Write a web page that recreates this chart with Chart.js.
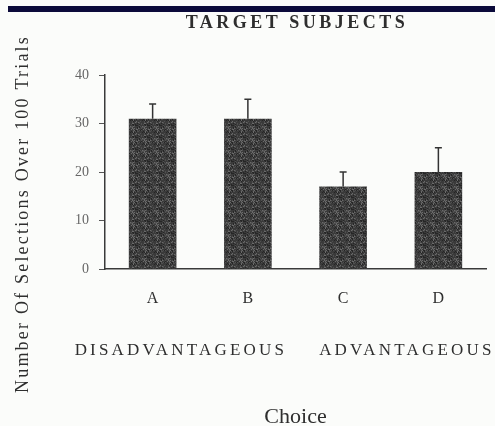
<!DOCTYPE html>
<html lang="en">
<head>
    <meta charset="UTF-8">
    <title>Target Subjects</title>
    <script src="https://cdn.jsdelivr.net/npm/chart.js"></script>
    <style>
        html, body {
            margin: 0;
            padding: 0;
            background: #fbfcfa;
        }

        #wrap {
            width: 495px;
            height: 426px;
        }
    </style>
</head>
<body>

    <div id="wrap"><canvas id="choiceChart"></canvas></div>

    <script>
        // values
        const choices = ['A', 'B', 'C', 'D'];
        const selections = [31, 31, 17, 20];
        const errorTops = [34, 35, 20, 25];
        const yTicks = [0, 10, 20, 30, 40];
        const groupLabels = ['DISADVANTAGEOUS', 'ADVANTAGEOUS'];

        const serif = '"Liberation Serif", "DejaVu Serif", serif';

        // speckled dark fill like the printed bars
        function barPattern() {
            const c = document.createElement('canvas');
            c.width = 12;
            c.height = 12;
            const g = c.getContext('2d');
            g.fillStyle = '#3a3a3a';
            g.fillRect(0, 0, 12, 12);
            for (let i = 0; i < 144; i++) {
                const h = Math.abs(Math.sin(i * 12.9898) * 43758.5453) % 1;
                if (h > 0.72) {
                    g.fillStyle = h > 0.9 ? '#6a6a6a' : '#505050';
                    g.fillRect(i % 12, Math.floor(i / 12), 1, 1);
                } else if (h < 0.15) {
                    g.fillStyle = '#262626';
                    g.fillRect(i % 12, Math.floor(i / 12), 1, 1);
                }
            }
            return g.createPattern(c, 'repeat');
        }

        const decorations = {
            id: 'decorations',
            beforeDraw(chart) {
                const ctx = chart.ctx;
                ctx.save();
                ctx.fillStyle = '#0b0a3a';
                ctx.fillRect(8, 6, chart.width - 8, 6);
                ctx.restore();
            },
            afterDatasetsDraw(chart) {
                const ctx = chart.ctx;
                const y = chart.scales.y;
                const meta = chart.getDatasetMeta(0);
                ctx.save();
                ctx.strokeStyle = '#333';
                ctx.lineWidth = 1.5;
                meta.data.forEach((bar, i) => {
                    const top = y.getPixelForValue(errorTops[i]);
                    ctx.beginPath();
                    ctx.moveTo(bar.x, bar.y);
                    ctx.lineTo(bar.x, top);
                    ctx.moveTo(bar.x - 3.5, top);
                    ctx.lineTo(bar.x + 3.5, top);
                    ctx.stroke();
                });
                ctx.restore();
            },
            afterDraw(chart) {
                const ctx = chart.ctx;
                const x = chart.scales.x;
                ctx.save();
                ctx.fillStyle = '#2e2e2e';
                ctx.textBaseline = 'middle';

                // title
                ctx.font = 'bold 18px ' + serif;
                ctx.letterSpacing = '3.5px';
                ctx.textAlign = 'center';
                ctx.fillText('TARGET SUBJECTS', 297, 23);

                // group labels under the categories
                ctx.font = '17px ' + serif;
                ctx.letterSpacing = '3.2px';
                ctx.textAlign = 'left';
                ctx.fillText(groupLabels[0], x.getPixelForValue(0) - 78, 351);
                ctx.fillText(groupLabels[1], x.getPixelForValue(2) - 24, 351);

                // y axis title
                ctx.font = '18px ' + serif;
                ctx.letterSpacing = '2.2px';
                ctx.textAlign = 'center';
                ctx.translate(23, 214);
                ctx.rotate(-Math.PI / 2);
                ctx.fillText('Number Of Selections Over 100 Trials', 0, 0);
                ctx.restore();
            }
        };

        const ctx = document.getElementById('choiceChart').getContext('2d');
        new Chart(ctx, {
            type: 'bar',
            data: {
                labels: choices,
                datasets: [{
                    data: selections,
                    backgroundColor: barPattern(),
                    borderWidth: 0,
                    barPercentage: 0.5,
                    categoryPercentage: 1
                }]
            },
            options: {
                responsive: true,
                maintainAspectRatio: false,
                animation: false,
                layout: {
                    padding: { top: 75, right: 9, left: 0, bottom: 0 }
                },
                plugins: {
                    legend: { display: false },
                    tooltip: { enabled: false }
                },
                scales: {
                    x: {
                        afterFit: scale => { scale.height = 157; },
                        grid: { display: false, drawTicks: false },
                        border: { display: true, color: '#3a3a3a', width: 1.5 },
                        ticks: {
                            padding: 20,
                            color: '#2e2e2e',
                            font: { family: serif, size: 16 }
                        },
                        title: {
                            display: true,
                            text: 'Choice',
                            color: '#2e2e2e',
                            font: { family: serif, size: 22, lineHeight: 1 },
                            padding: { top: 0, bottom: -2 }
                        }
                    },
                    y: {
                        min: 0,
                        max: 40,
                        afterFit: scale => { scale.width = 105; },
                        afterBuildTicks: scale => {
                            scale.ticks = yTicks.map(v => ({ value: v }));
                        },
                        grid: {
                            display: true,
                            drawOnChartArea: false,
                            drawTicks: true,
                            tickLength: 6,
                            color: '#555'
                        },
                        border: { display: true, color: '#3a3a3a', width: 1.5 },
                        ticks: {
                            padding: 10,
                            color: '#666',
                            font: { family: serif, size: 14 }
                        }
                    }
                }
            },
            plugins: [decorations]
        });
    </script>
</body>
</html>
